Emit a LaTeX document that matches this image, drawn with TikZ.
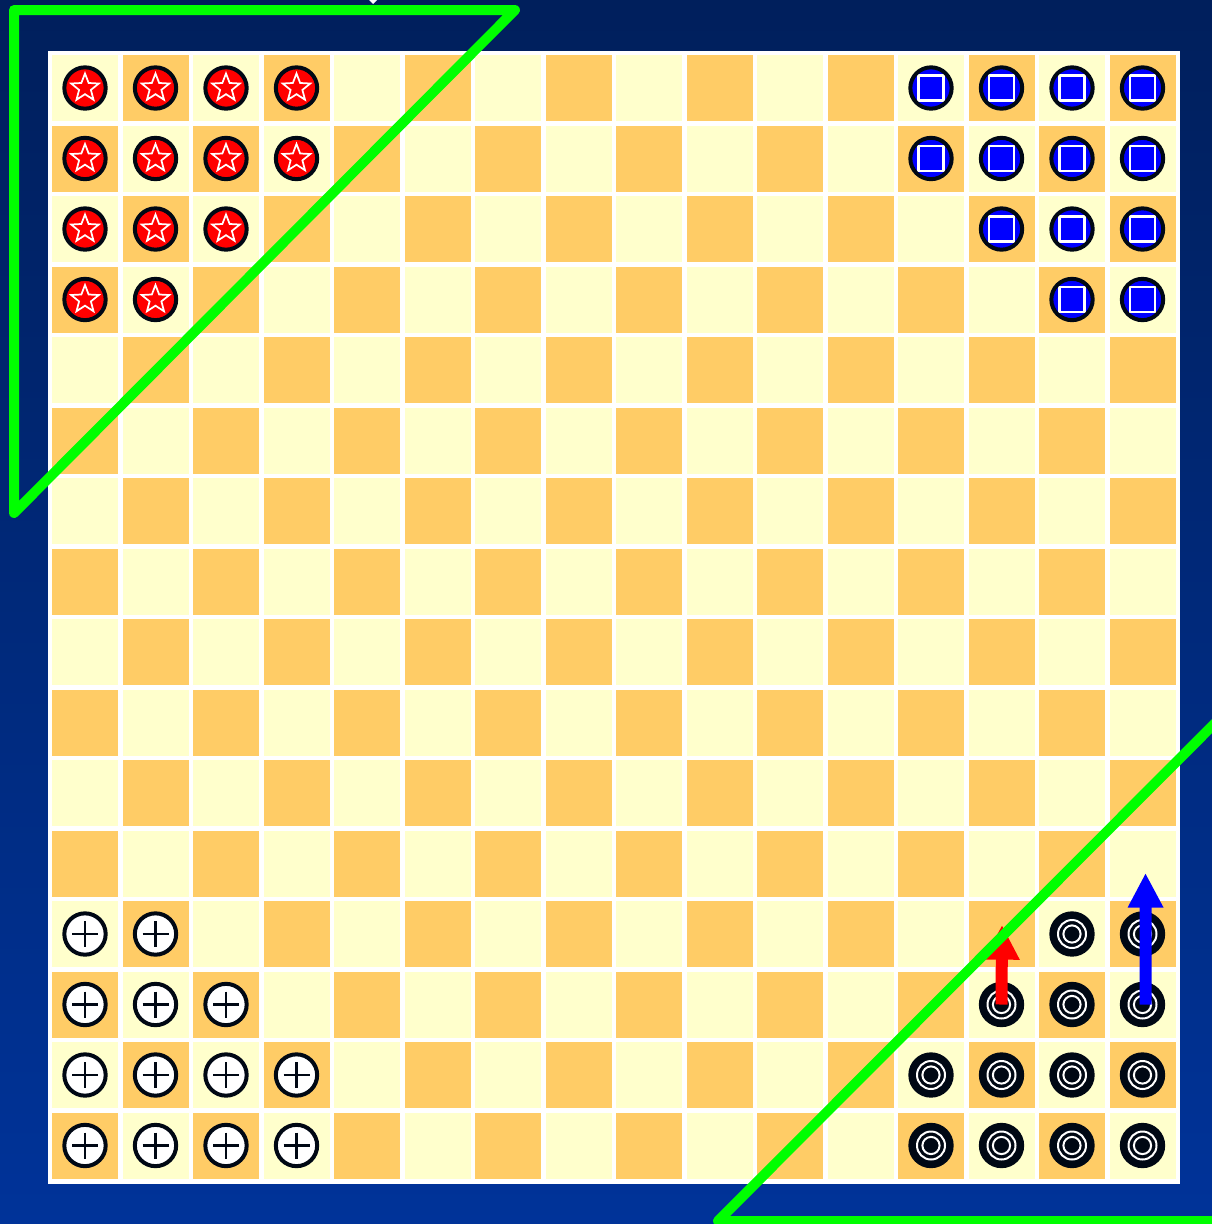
\documentclass[tikz,border=0pt]{standalone}
\usetikzlibrary{arrows.meta}
\definecolor{bgtop}{HTML}{001F5C}
\definecolor{bgmid}{HTML}{002E8A}
\definecolor{bgbot}{HTML}{003399}
\definecolor{lightcell}{HTML}{FFFFCC}
\definecolor{darkcell}{HTML}{FFCC66}
\definecolor{ink}{HTML}{000814}
\definecolor{mgreen}{HTML}{00FF00}
\definecolor{pblue}{HTML}{0000FF}
\tikzset{
  piece/.style={circle, inner sep=0pt, minimum size=31pt, line width=3pt, draw=ink},
  redpiece/.style={piece, fill=red, path picture={
    \draw[white, line width=1.3pt, line join=miter, shift={(path picture bounding box.center)}]
      (-90:14.5) -- (-54:6.2) -- (-18:14.5) -- (18:6.2) -- (54:14.5) -- (90:6.2)
      -- (126:14.5) -- (162:6.2) -- (198:14.5) -- (234:6.2) -- cycle;}},
  bluepiece/.style={piece, fill=pblue, path picture={
    \draw[white, line width=1.9pt, shift={(path picture bounding box.center)}]
      (-12.5,-12.5) rectangle (12.5,12.5);}},
  whitepiece/.style={piece, fill=white, path picture={
    \draw[ink, line width=2.2pt, shift={(path picture bounding box.center)}]
      (-13,0) -- (13,0) (0,-13) -- (0,13);}},
  blackpiece/.style={piece, fill=ink, path picture={
    \draw[white, line width=1.5pt, shift={(path picture bounding box.center)}]
      (0,0) circle[radius=14] (0,0) circle[radius=8.6];}},
  movearrow/.style={line width=9pt, -{Triangle[width=25pt,length=26pt]}},
  zone/.style={mgreen, line width=7.5pt, line join=round, line cap=round}
}
\begin{document}
\begin{tikzpicture}[x=0.75pt,y=-0.75pt]
\useasboundingbox (0,0) rectangle (1212,1224);
% background
\shade[top color=bgtop, middle color=bgmid, bottom color=bgbot] (0,0) rectangle (1212,1224);
\fill[white] (373,-14) -- (382,-5) -- (373,4) -- (364,-5) -- cycle;
% board
\fill[white] (47.5,51) rectangle (1180,1183.5);
\foreach \r in {0,...,15}{
  \foreach \c in {0,...,15}{
    \pgfmathtruncatemacro\cp{mod(\r+\c,2)}
    \ifnum\cp=0 \def\cc{lightcell}\else\def\cc{darkcell}\fi
    \fill[\cc] ({52+70.5*\c},{55+70.5*\r}) rectangle ++(66,66);
  }
}
% pieces
\foreach \r/\k in {0/3,1/3,2/2,3/1}{
  \foreach \c in {0,...,\k}{
    \node[redpiece] (p-\r-\c) at ({85+70.5*\c},{88+70.5*\r}) {};
  }
}
\foreach \r/\s in {0/12,1/12,2/13,3/14}{
  \foreach \c in {\s,...,15}{
    \node[bluepiece] (p-\r-\c) at ({85+70.5*\c},{88+70.5*\r}) {};
  }
}
\foreach \r/\k in {12/1,13/2,14/3,15/3}{
  \foreach \c in {0,...,\k}{
    \node[whitepiece] (p-\r-\c) at ({85+70.5*\c},{88+70.5*\r}) {};
  }
}
\foreach \r/\s in {12/14,13/13,14/12,15/12}{
  \foreach \c in {\s,...,15}{
    \node[blackpiece] (p-\r-\c) at ({85+70.5*\c},{88+70.5*\r}) {};
  }
}
% moves
\coordinate (redtip) at (1002,925);
\coordinate (bluetip) at (1145.5,873);
\draw[movearrow, red] (p-13-13.center) -- (redtip);
\draw[movearrow, pblue] ([xshift=2.4pt]p-13-15.center) -- (bluetip);
% zones
\draw[zone] (14,10) -- (515,10) -- (14,513) -- cycle;
\draw[zone] (1290,648) -- (718,1221) -- (1290,1221);
\end{tikzpicture}
\end{document}
